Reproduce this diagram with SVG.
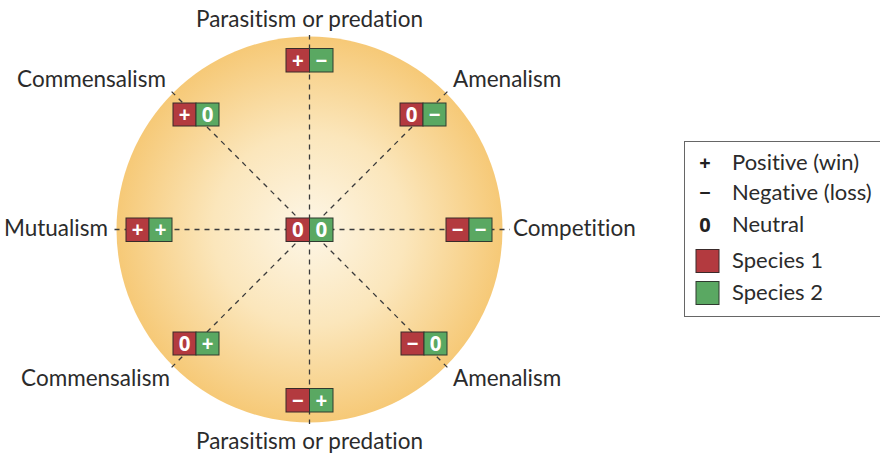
<svg xmlns="http://www.w3.org/2000/svg" width="880" height="458" viewBox="0 0 880 458">
<defs>
<radialGradient id="bg" cx="309.5" cy="229.5" r="193" gradientUnits="userSpaceOnUse">
<stop offset="0" stop-color="#fdf6e6"/>
<stop offset="0.5" stop-color="#fbe6bb"/>
<stop offset="1" stop-color="#f6c977"/>
</radialGradient>
<style>
text{font-variant-ligatures:none;font-feature-settings:"liga" 0}
.lbl{font-family:Lato,"Open Sans","Liberation Sans",sans-serif;font-size:22.5px;fill:#2b2b2b}
.leg{font-family:Lato,"Open Sans","Liberation Sans",sans-serif;font-size:22px;fill:#2b2b2b}
.sym{font-family:"Open Sans","Liberation Sans",sans-serif;font-size:20px;font-weight:bold;fill:#222}
.r{fill:#b33a3f;stroke:#3a2a2a;stroke-width:1}
.g{fill:#5aa862;stroke:#2f3a2f;stroke-width:1}
.bt{font-family:"Open Sans","Liberation Sans",sans-serif;font-size:20.5px;font-weight:bold;fill:#fff;text-anchor:middle}
.dash{stroke:#3a3a3a;stroke-width:1.3;stroke-dasharray:5 5;fill:none}
</style>
</defs>
<rect width="880" height="458" fill="#fff"/>
<circle cx="309.5" cy="229.5" r="193" fill="url(#bg)"/>
<g id="connectors">
<line class="dash" x1="309.5" y1="229.5" x2="309.5" y2="35"/>
<line class="dash" x1="309.5" y1="229.5" x2="309.5" y2="424"/>
<line class="dash" x1="309.5" y1="229.5" x2="113" y2="229.5"/>
<line class="dash" x1="309.5" y1="229.5" x2="510" y2="229.5"/>
<line class="dash" x1="309.5" y1="229.5" x2="171" y2="91"/>
<line class="dash" x1="309.5" y1="229.5" x2="448" y2="91"/>
<line class="dash" x1="309.5" y1="229.5" x2="171" y2="368"/>
<line class="dash" x1="309.5" y1="229.5" x2="448" y2="368"/>
</g>
<g id="center">
<rect class="r" x="286" y="218" width="23.5" height="23.5"/>
<rect class="g" x="309.5" y="218" width="23.5" height="23.5"/>
<text class="bt" x="297.75" y="237">0</text>
<text class="bt" x="321.25" y="237">0</text>
</g>
<g id="parasitism-top">
<rect class="r" x="286" y="48.5" width="23.5" height="23.5"/>
<rect class="g" x="309.5" y="48.5" width="23.5" height="23.5"/>
<text class="bt" x="297.75" y="67.5">+</text>
<text class="bt" x="321.25" y="67.5">−</text>
<text class="lbl" x="309.5" y="27" text-anchor="middle">Parasitism or predation</text>
</g>
<g id="parasitism-bottom">
<rect class="r" x="286" y="388.5" width="23.5" height="23.5"/>
<rect class="g" x="309.5" y="388.5" width="23.5" height="23.5"/>
<text class="bt" x="297.75" y="407.5">−</text>
<text class="bt" x="321.25" y="407.5">+</text>
<text class="lbl" x="309.5" y="449" text-anchor="middle">Parasitism or predation</text>
</g>
<g id="commensalism-top">
<rect class="r" x="173" y="103" width="23" height="23"/>
<rect class="g" x="196" y="103" width="23" height="23"/>
<text class="bt" x="184.5" y="121.5">+</text>
<text class="bt" x="207.5" y="121.5">0</text>
<text class="lbl" x="166" y="87" text-anchor="end">Commensalism</text>
</g>
<g id="amenalism-top">
<rect class="r" x="400" y="103" width="23" height="23"/>
<rect class="g" x="423" y="103" width="23" height="23"/>
<text class="bt" x="411.5" y="121.5">0</text>
<text class="bt" x="434.5" y="121.5">−</text>
<text class="lbl" x="453" y="87">Amenalism</text>
</g>
<g id="mutualism">
<rect class="r" x="126" y="218" width="23" height="23.5"/>
<rect class="g" x="149" y="218" width="23" height="23.5"/>
<text class="bt" x="137.5" y="237">+</text>
<text class="bt" x="160.5" y="237">+</text>
<text class="lbl" x="108" y="236" text-anchor="end">Mutualism</text>
</g>
<g id="competition">
<rect class="r" x="446" y="218" width="23" height="23.5"/>
<rect class="g" x="469" y="218" width="23" height="23.5"/>
<text class="bt" x="457.5" y="237">−</text>
<text class="bt" x="480.5" y="237">−</text>
<text class="lbl" x="513" y="236">Competition</text>
</g>
<g id="commensalism-bottom">
<rect class="r" x="173" y="332" width="23" height="23"/>
<rect class="g" x="196" y="332" width="23" height="23"/>
<text class="bt" x="184.5" y="350.5">0</text>
<text class="bt" x="207.5" y="350.5">+</text>
<text class="lbl" x="170" y="386" text-anchor="end">Commensalism</text>
</g>
<g id="amenalism-bottom">
<rect class="r" x="401" y="332" width="23" height="23"/>
<rect class="g" x="424" y="332" width="23" height="23"/>
<text class="bt" x="412.5" y="350.5">−</text>
<text class="bt" x="435.5" y="350.5">0</text>
<text class="lbl" x="453" y="386">Amenalism</text>
</g>
<g id="legend">
<rect x="684.5" y="141.5" width="200" height="175" fill="#fff" stroke="#666" stroke-width="1"/>
<text class="sym" x="705" y="170" text-anchor="middle">+</text>
<text class="leg" x="732" y="170">Positive (win)</text>
<text class="sym" x="705" y="200" text-anchor="middle">−</text>
<text class="leg" x="732" y="200">Negative (loss)</text>
<text class="sym" x="705" y="232" text-anchor="middle">0</text>
<text class="leg" x="732" y="232">Neutral</text>
<rect class="r" x="696" y="249.5" width="23" height="23"/>
<text class="leg" x="732" y="268">Species 1</text>
<rect class="g" x="696" y="281.5" width="23" height="23"/>
<text class="leg" x="732" y="300">Species 2</text>
</g>
</svg>
